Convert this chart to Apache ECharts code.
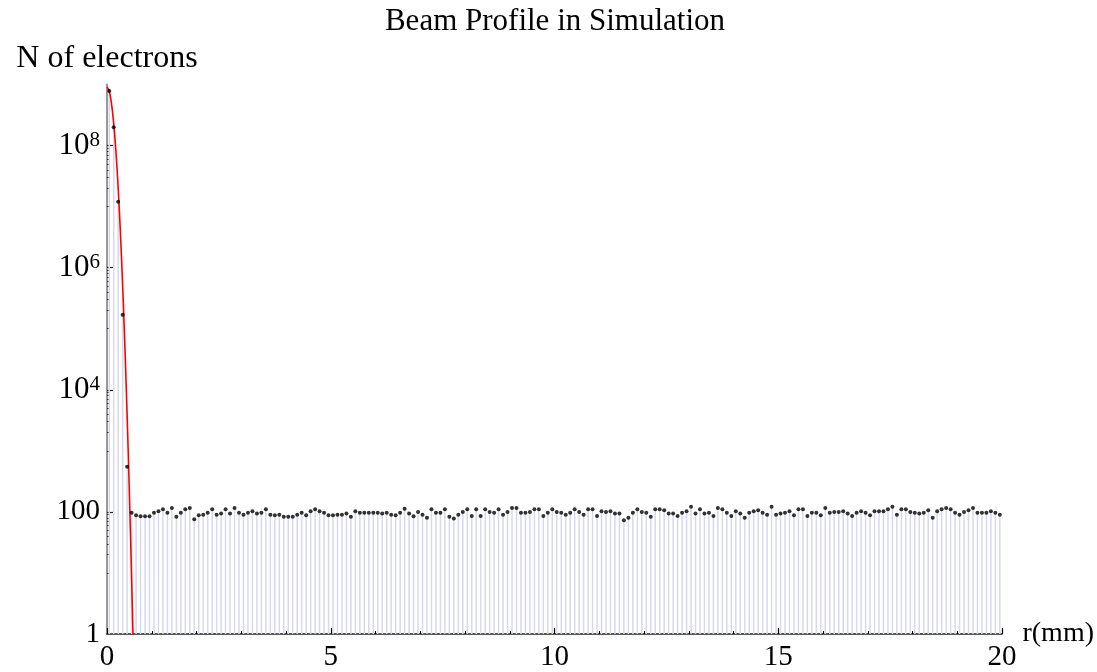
<!DOCTYPE html>
<html><head><meta charset="utf-8">
<script src="https://cdn.jsdelivr.net/npm/echarts@6/dist/echarts.min.js"></script>
<style>html,body{margin:0;padding:0;background:#fff}#c{width:1097px;height:672px}</style>
</head><body><div id="c"></div>
<script>
const titleText = 'Beam Profile in Simulation';
const yName = 'N of electrons';
const xName = 'r(mm)';
const xMin = 0, xMax = 20, xStep = 5;
const yLabelValues = [1, 100, 1e4, 1e6, 1e8];
const yMajorTicks = [100, 1e4, 1e6, 1e8];
const yMinorTicks = [10,20,30,40,50,60,70,80,90,
  1000,2000,3000,4000,5000,6000,7000,8000,9000,
  1e5,2e5,3e5,4e5,5e5,6e5,7e5,8e5,9e5,
  1e7,2e7,3e7,4e7,5e7,6e7,7e7,8e7,9e7];

// bin centres (mm): first bin and bin width of the simulation histogram
const firstBin = 0.05, binWidth = 0.1;
// simulated counts: core of the beam
const nCore = [7.8e8, 2.0e8, 1.2e7, 1.7e5, 550];
// simulated counts: flat background (r = 0.55 ... 19.95)
const nBackground = [
  97,88,85,85,85,97,102,110,97,116,83,97,110,116,76,88,90,97,110,90,
  94,110,94,116,97,90,97,102,94,97,110,90,88,90,83,83,83,90,97,88,
  102,110,102,97,88,88,90,90,94,83,102,97,97,97,97,97,94,97,90,88,
  97,113,94,85,100,
  90,80,110,97,97,110,83,78,90,100,110,86,110,86,110,100,97,110,90,100,
  116,116,97,97,100,110,110,86,97,110,100,97,90,97,110,100,90,110,110,86,
  102,100,102,94,94,73,80,97,110,100,97,83,110,110,106,94,94,86,97,102,
  121,94,110,94,
  97,86,116,110,97,86,102,94,80,97,102,106,97,90,121,90,94,97,102,88,
  110,110,86,97,97,88,116,97,100,100,102,94,86,97,102,97,88,102,102,102,
  110,121,90,110,110,100,97,94,97,106,80,102,110,116,110,97,90,100,106,116,
  97,97,97,102,97,90
];
// Gaussian fit curve
const rFit = [0, 0.05, 0.10, 0.15, 0.20, 0.25, 0.30, 0.35, 0.40, 0.45, 0.50, 0.55, 0.60];
const nFit = [9.1e8, 7.8e8, 4.9e8, 2.3e8, 7.9e7, 2.0e7, 3.7e6, 5.0e5, 5.1e4, 3.7e3, 204, 8.2, 0.24];

const counts = nCore.concat(nBackground);
const points = counts.map((n, i) => [+(firstBin + binWidth * i).toFixed(2), n]);
const fitLine = rFit.map((r, i) => [r, nFit[i]]);

const FONT = 'Liberation Serif';
const chart = echarts.init(document.getElementById('c'), null, {renderer: 'canvas'});
chart.setOption({
  animation: false,
  backgroundColor: '#fff',
  graphic: [{
    type: 'text', x: 555, y: 22,
    style: {text: titleText, font: '31px "Liberation Serif"', fill: '#000', align: 'center', verticalAlign: 'middle'}
  }],
  grid: {left: 107, right: 94, top: 84.5, bottom: 34},
  xAxis: {
    type: 'value', min: xMin, max: xMax, interval: xStep,
    name: xName, nameLocation: 'end', nameGap: 7,
    nameTextStyle: {fontFamily: FONT, fontSize: 28, color: '#000', verticalAlign: 'middle'},
    axisLine: {lineStyle: {color: '#222', width: 1.5}},
    axisTick: {inside: true, length: 6, lineStyle: {color: '#000', width: 1.2}},
    minorTick: {show: true, splitNumber: 5, length: 3, lineStyle: {color: '#000', width: 1}},
    axisLabel: {fontFamily: FONT, fontSize: 29, color: '#000', margin: 9},
    splitLine: {show: false}
  },
  yAxis: [{
    type: 'log', logBase: 10, min: 1, max: 1e9,
    name: yName, nameLocation: 'end', nameGap: 10,
    nameTextStyle: {fontFamily: FONT, fontSize: 32, color: '#000', align: 'center'},
    axisLine: {lineStyle: {color: '#999', width: 2}},
    axisTick: {inside: true, length: 6, customValues: yMajorTicks, lineStyle: {color: '#222', width: 1.2}},
    axisLabel: {
      customValues: yLabelValues, fontFamily: FONT, fontSize: 29, color: '#000', margin: 7,
      formatter: v => {
        const e = Math.round(Math.log10(v));
        return e <= 2 ? String(Math.round(v)) : '{b|10}{s|' + e + '}';
      },
      rich: {
        b: {fontFamily: FONT, fontSize: 31, color: '#000'},
        s: {fontFamily: FONT, fontSize: 21, color: '#000', verticalAlign: 'top'}
      }
    },
    splitLine: {show: false}
  }, {
    type: 'log', logBase: 10, min: 1, max: 1e9, position: 'left',
    axisLine: {show: false},
    axisTick: {inside: true, length: 3, customValues: yMinorTicks, lineStyle: {color: '#333', width: 1}},
    axisLabel: {show: false},
    splitLine: {show: false}
  }],
  series: [{
    type: 'bar', data: points, barWidth: 1.5, silent: true, z: 1,
    itemStyle: {color: '#d8d8ef'}
  }, {
    type: 'line', data: fitLine, showSymbol: false, smooth: 0.4, clip: true, z: 3,
    lineStyle: {color: '#ff0000', width: 1.6}
  }, {
    type: 'scatter', data: points, symbol: 'circle', symbolSize: 4, z: 4,
    itemStyle: {color: '#000'}
  }]
});
</script></body></html>
